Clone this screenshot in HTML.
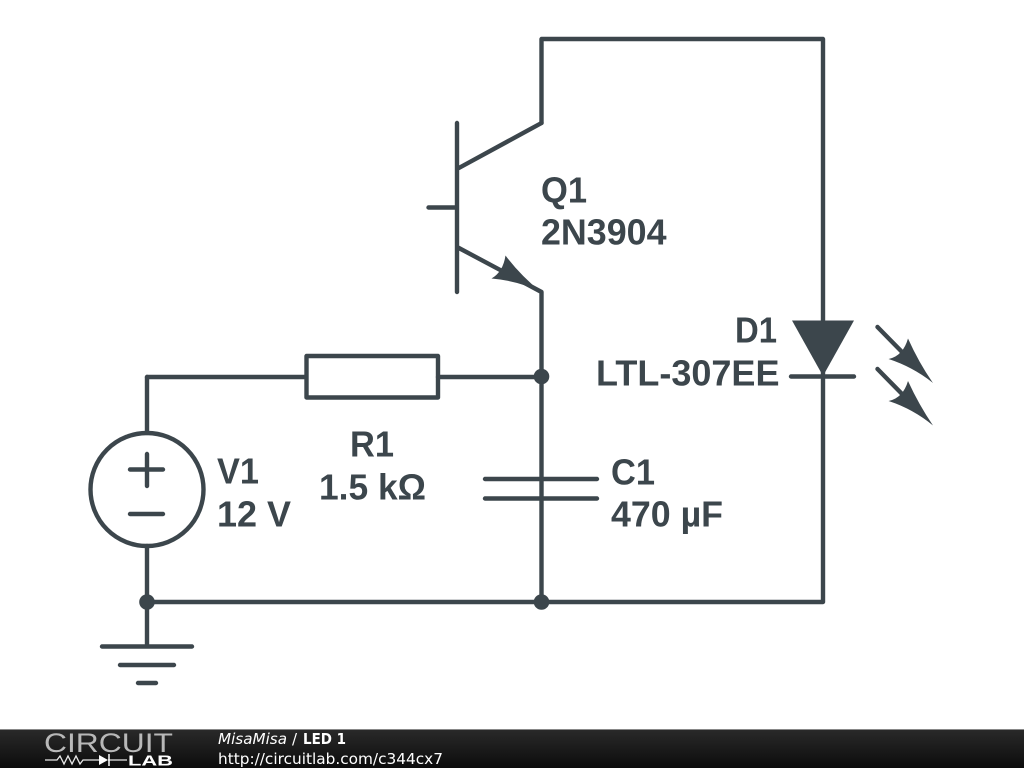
<!DOCTYPE html>
<html><head><meta charset="utf-8"><style>
html,body{margin:0;padding:0;background:#fff}
svg{display:block}
.l{font-family:"Liberation Sans",sans-serif;font-weight:bold;font-size:35.700px;fill:#3c464c}
.f{font-family:"DejaVu Sans",sans-serif;font-size:15px;fill:#fff}
</style></head><body>
<svg width="1024" height="768" viewBox="0 0 1024 768" xmlns="http://www.w3.org/2000/svg">
<defs><linearGradient id="g" x1="0" y1="0" x2="0" y2="1"><stop offset="0" stop-color="#2a2a2a"/><stop offset="1" stop-color="#0c0c0c"/></linearGradient></defs>
<rect width="1024" height="768" fill="#fff"/>
<g fill="none" stroke="#3c464c" stroke-width="4.400" stroke-linecap="round" stroke-linejoin="round">
<path d="M541.500 123V39H823V602H147"/>
<path d="M457 123V292M428.500 207.500H457M457 169L541.500 123M457 247L541.500 292V602"/>
<path d="M147 377H306M438 377H541.500"/>
<rect x="306.500" y="356" width="131.500" height="41.500"/>
<path d="M147 377V433M147 546V646"/>
<circle cx="147" cy="489.500" r="56.500"/>
<path d="M147 454V486M130 469.500H163M130 514H163"/>
<path d="M102 646.500H192M120 665H174M138 683H156"/>
<path d="M485 479H597M485 498.500H597"/>
<path d="M791 376.500H854"/>
<path d="M877.500 327L905 355M877.500 369L905 397"/>
</g>
<g fill="#3c464c">
<circle cx="541.500" cy="376.500" r="7.800"/><circle cx="541.500" cy="602" r="7.800"/><circle cx="147" cy="602" r="7.800"/>
<path d="M792 320.500H854L823 376Z"/>
<path d="M541.500 292.500Q520 275 505.500 255.500Q503 272 491.500 278.500Q520 281 541.500 292.500Z"/>
<path d="M933 383Q919 363 908 338.500Q903 356 888.500 359Q913 367 933 383Z"/>
<path d="M933 425.500Q919 405 908 381Q903 398 888.500 401Q913 409 933 425.500Z"/>
</g>
<text class="l" x="541" y="202.700" textLength="46" lengthAdjust="spacingAndGlyphs">Q1</text>
<text class="l" x="541" y="244.700" textLength="125.500" lengthAdjust="spacingAndGlyphs">2N3904</text>
<text class="l" x="735" y="342.700" textLength="42" lengthAdjust="spacingAndGlyphs">D1</text>
<text class="l" x="596" y="385.700" textLength="183.500" lengthAdjust="spacingAndGlyphs">LTL-307EE</text>
<text class="l" x="350" y="456.700" textLength="44" lengthAdjust="spacingAndGlyphs">R1</text>
<text class="l" x="319" y="499.700" textLength="107" lengthAdjust="spacingAndGlyphs">1.5 kΩ</text>
<text class="l" x="217" y="483.700" textLength="42" lengthAdjust="spacingAndGlyphs">V1</text>
<text class="l" x="217" y="526.700" textLength="74" lengthAdjust="spacingAndGlyphs">12 V</text>
<text class="l" x="611" y="484.700" textLength="44" lengthAdjust="spacingAndGlyphs">C1</text>
<text class="l" x="611" y="526.700" textLength="112" lengthAdjust="spacingAndGlyphs">470 µF</text>
<rect x="0" y="729" width="1024" height="39" fill="url(#g)"/>
<rect x="0" y="729" width="1024" height="1" fill="#888"/>
<text x="44" y="752" font-family="'Liberation Sans',sans-serif" font-size="27" fill="#b8b8b8" textLength="129" lengthAdjust="spacingAndGlyphs">CIRCUIT</text>
<path d="M45 760H57L60 756 64 764 68 756 72 764 76 756 80 764 83 760H99M108 760H127" stroke="#e8e8e8" stroke-width="1.300" fill="none"/>
<path d="M99 755V765L108 760Z" fill="#fff"/><path d="M109 754V766" stroke="#fff" stroke-width="1.500"/>
<text x="128" y="765.500" font-family="'Liberation Sans',sans-serif" font-size="15" font-weight="bold" fill="#fff" textLength="45" lengthAdjust="spacingAndGlyphs">LAB</text>
<text class="f" x="218" y="744" font-style="italic" textLength="69" lengthAdjust="spacingAndGlyphs">MisaMisa</text>
<text class="f" x="292" y="744">/</text>
<text class="f" x="303" y="744" font-weight="bold" textLength="43" lengthAdjust="spacingAndGlyphs">LED 1</text>
<text class="f" x="218" y="764" textLength="225" lengthAdjust="spacingAndGlyphs">http://circuitlab.com/c344cx7</text>
</svg>
</body></html>
